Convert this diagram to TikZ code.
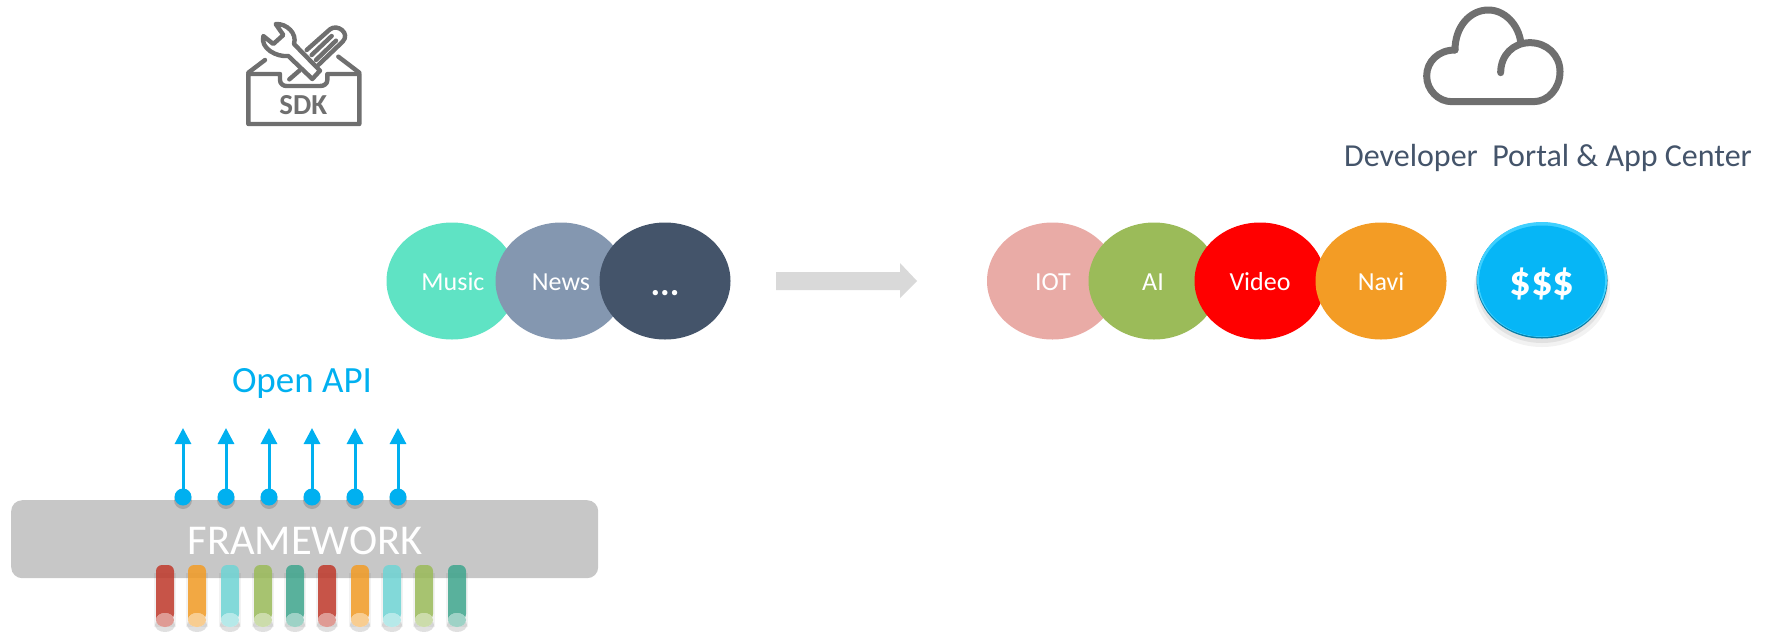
\documentclass[tikz,border=0pt]{standalone}
\usepackage{fontspec}
\setmainfont{Carlito}
\usetikzlibrary{arrows.meta,shapes.geometric}
\definecolor{icongray}{HTML}{6F6F6F}
\definecolor{apiblue}{HTML}{00B0F0}
\definecolor{slate}{HTML}{44546A}
\definecolor{tubered}{HTML}{C0392B}
\definecolor{tubeorange}{HTML}{F39C25}
\definecolor{tubecyan}{HTML}{6FD5D5}
\definecolor{tubegreen}{HTML}{9BBB59}
\definecolor{tubeteal}{HTML}{3FA68E}
\definecolor{cmusic}{HTML}{5FE3C4}
\definecolor{cnews}{HTML}{8497B0}
\definecolor{cbigarrow}{HTML}{D9D9D9}
\definecolor{ciot}{HTML}{E9ABA6}
\definecolor{cai}{HTML}{9BBB59}
\definecolor{cnavi}{HTML}{F39C25}
\definecolor{crimdark}{HTML}{0A7FA8}
\definecolor{crimlight}{HTML}{3FD0FF}
\definecolor{cbutton}{HTML}{06B6F6}
\definecolor{cframe}{HTML}{C7C7C7}
\tikzset{
  x=1pt,y=-1pt,
  bubble/.style={ellipse,draw=none,minimum width=131pt,minimum height=117pt,inner sep=0pt,text=white},
  lbl/.style={text=white,font=\fontsize{26}{30}\selectfont,inner sep=0pt},
  iconline/.style={draw=icongray,line width=4.4pt,line cap=round,line join=round},
  cloudline/.style={draw=icongray,line width=7pt,line cap=round,line join=round},
  apiarrow/.style={draw=apiblue,line width=3pt,-{Triangle[length=16pt,width=16pt]}},
  apidot/.style={circle,fill=apiblue,minimum size=17pt,inner sep=0pt},
  dotshadow/.style={circle,fill=black,fill opacity=.16,minimum size=18pt,inner sep=0pt},
}
\newcommand{\tube}[3]{%
  \fill[black,opacity=.05] (#1-11,#2+8) rectangle (#1+11,#2+62);
  \fill[black,opacity=.12] (#1,#2+60) ellipse [x radius=10,y radius=7];
  \fill[#3,opacity=.85] {[rounded corners=6pt] (#1-9,#2+55) -- (#1-9,#2) -- (#1+9,#2) -- (#1+9,#2+55)} -- cycle;
  \fill[white] (#1,#2+55) ellipse [x radius=9,y radius=7];
  \fill[#3,opacity=.5] (#1,#2+55) ellipse [x radius=9,y radius=7];
}
\begin{document}
\begin{tikzpicture}
\useasboundingbox (0,0) rectangle (1769,635);
% SDK icon
\begin{scope}[shift={(220,0)},x=.33333pt,y=-.33333pt]
  \draw[iconline] (85,372) -- (85,222) -- (180,222) -- (180,240) .. controls (180,252) and (190,258) .. (200,258) -- (300,258) .. controls (312,258) and (322,252) .. (322,240) -- (322,222) -- (418,222) -- (418,372) -- cycle;
  \draw[iconline] (85,218) -- (135,180);
  \draw[iconline] (418,218) -- (355,170);
  \draw[iconline] (167,72) .. controls (200,70) and (232,100) .. (222,132) -- (300,212) -- (277,237) -- (205,168) .. controls (170,172) and (120,145) .. (130,108) -- (160,132) -- (190,105) -- cycle;
  \draw[iconline] (260,150) -- (330,88) .. controls (352,70) and (392,100) .. (368,125) -- (295,195);
  \draw[iconline] (275,165) -- (335,108);
  \draw[iconline] (288,180) -- (348,122);
  \draw[iconline] (208,238) -- (238,212);
  \node (sdk) [text=icongray,font=\bfseries\fontsize{29}{30}\selectfont] at (250,314) {SDK};
\end{scope}
% Cloud icon
\begin{scope}[shift={(1400,0)},x=.33333pt,y=-.33333pt]
  \draw[cloudline] (165,150) .. controls (165,80) and (210,30) .. (265,30) .. controls (315,30) and (355,75) .. (362,125);
  \draw[cloudline] (165,150) .. controls (115,150) and (80,185) .. (80,228) .. controls (80,270) and (115,305) .. (155,305) -- (400,305) .. controls (445,305) and (480,265) .. (480,215) .. controls (480,165) and (440,128) .. (390,128) .. controls (340,128) and (302,165) .. (302,218);
\end{scope}
\node (portal) [text=slate,font=\fontsize{32}{36}\selectfont,anchor=center] at (1548,158) {Developer\ \ Portal \& App Center};
% bubbles
\node (music) [bubble,fill=cmusic] at (452,281) {};
\node (news) [bubble,fill=cnews] at (561,281) {};
\node (more) [bubble,fill=slate] at (665,281) {};
\node (musict) [lbl] at (453,282) {Music};
\node (newst) [lbl] at (561,282) {News};
\node (moret) [text=white,font=\bfseries\fontsize{36}{40}\selectfont,inner sep=0pt] at (665,293) {...};
\draw[draw=none,fill=cbigarrow] (776,272) -- (900,272) -- (900,263) -- (917,281) -- (900,298) -- (900,290) -- (776,290) -- cycle;
\node (iot) [bubble,fill=ciot] at (1052.5,281) {};
\node (ai) [bubble,fill=cai] at (1154,281) {};
\node (video) [bubble,fill=red] at (1260,281) {};
\node (navi) [bubble,fill=cnavi] at (1381,281) {};
\node (iott) [lbl] at (1053,282) {IOT};
\node (ait) [lbl] at (1153,282) {AI};
\node (videot) [lbl] at (1260,282) {Video};
\node (navit) [lbl] at (1381,282) {Navi};
% money button
\fill[black,opacity=.05] (1542,289) ellipse [x radius=68,y radius=58];
\fill[black,opacity=.07] (1542,285) ellipse [x radius=66,y radius=58];
\fill[crimdark] (1542,280.5) ellipse [x radius=65.5,y radius=58];
\fill[crimlight] (1542,279.5) ellipse [x radius=65,y radius=57.5];
\node (money) [ellipse,fill=cbutton,minimum width=126pt,minimum height=111pt,inner sep=0pt] at (1542,281) {};
\node (moneyt) [text=white,font=\bfseries\fontsize{43}{47}\selectfont,inner sep=0pt] at (1542,284) {\$\$\$};
% Open API
\node (api) [text=apiblue,font=\fontsize{37}{41}\selectfont] at (302,383) {Open API};
% framework
\node (fw) [rounded corners=11pt,fill=cframe,minimum width=587pt,minimum height=78pt,inner sep=0pt,anchor=north west] at (11,500) {};
\node (fwt) [text=white,font=\fontsize{42.5}{46}\selectfont] at (305,541) {FRAMEWORK};
\tube{165}{565}{tubered}
\tube{197}{565}{tubeorange}
\tube{230}{565}{tubecyan}
\tube{263}{565}{tubegreen}
\tube{295}{565}{tubeteal}
\tube{327}{565}{tubered}
\tube{360}{565}{tubeorange}
\tube{392}{565}{tubecyan}
\tube{424}{565}{tubegreen}
\tube{457}{565}{tubeteal}
% API arrows
\foreach \n/\xx in {1/183,2/226,3/269,4/312,5/355,6/398}{
  \node (ds\n) [dotshadow] at (\xx,500) {};
  \node (d\n) [apidot] at (\xx,497) {};
  \coordinate (t\n) at (\xx,428);
  \draw[apiarrow] (d\n.center) -- (t\n);
}
\end{tikzpicture}
\end{document}
